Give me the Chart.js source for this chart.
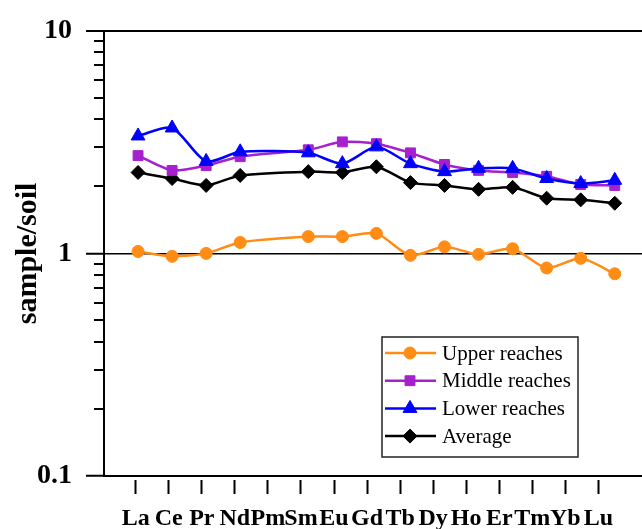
<!DOCTYPE html>
<html>
<head>
<meta charset="utf-8">
<script src="https://cdn.jsdelivr.net/npm/chart.js@4.4.1/dist/chart.umd.min.js"></script>
<style>
  html, body { margin: 0; padding: 0; background: #fff; }
</style>
</head>
<body>
<canvas id="ree" width="642" height="529"></canvas>
<script>
// REE values normalised to soil
const elements = ['La', 'Ce', 'Pr', 'Nd', 'Pm', 'Sm', 'Eu', 'Gd', 'Tb', 'Dy', 'Ho', 'Er', 'Tm', 'Yb', 'Lu'];
const upperReaches  = [1.02, 0.97, 1.00, 1.12, null, 1.19, 1.19, 1.23, 0.98, 1.07, 0.99, 1.05, 0.86, 0.95, 0.81];
const middleReaches = [2.75, 2.36, 2.48, 2.72, null, 2.92, 3.17, 3.11, 2.83, 2.51, 2.36, 2.31, 2.22, 2.04, 2.02];
const lowerReaches  = [3.37, 3.66, 2.59, 2.86, null, 2.83, 2.53, 3.01, 2.53, 2.33, 2.41, 2.41, 2.17, 2.06, 2.13];
const average       = [2.31, 2.17, 2.02, 2.24, null, 2.33, 2.31, 2.45, 2.08, 2.02, 1.94, 1.98, 1.77, 1.74, 1.68];

// y axis ticks (log), only decades get a label
const yTicks = [0.1, 0.2, 0.3, 0.4, 0.5, 0.6, 0.7, 0.8, 0.9, 1, 2, 3, 4, 5, 6, 7, 8, 9, 10];
const yLabels = [0.1, 1, 10];

const serif = "'Liberation Serif', 'Times New Roman', serif";

function toPoints(values) {
    return values.map((v, i) => ({ x: i, y: v }));
}

function series(label, values, color, style, radius, order) {
    return {
        label: label,
        data: toPoints(values),
        xAxisID: 'xd',
        yAxisID: 'y',
        borderColor: color,
        backgroundColor: color,
        pointBackgroundColor: color,
        pointBorderColor: color,
        pointStyle: style,
        pointRadius: radius,
        pointBorderWidth: 1,
        borderWidth: 2.5,
        tension: 0.25,
        spanGaps: true,
        order: order
    };
}

// short minor ticks on the y axis
const minorTicks = {
    id: 'minorTicks',
    afterDraw(chart) {
        const s = chart.scales.y;
        const ctx = chart.ctx;
        ctx.save();
        ctx.strokeStyle = '#000';
        ctx.lineWidth = 2;
        s.ticks.forEach(t => {
            if (yLabels.includes(t.value)) return;
            const py = Math.round(s.getPixelForValue(t.value));
            ctx.beginPath();
            ctx.moveTo(s.right - 10, py);
            ctx.lineTo(s.right, py);
            ctx.stroke();
        });
        ctx.restore();
    }
};

// boxed legend with line + marker samples
const lineLegend = {
    id: 'lineLegend',
    afterDraw(chart) {
        const ctx = chart.ctx;
        const x0 = 382, y0 = 337, w = 196, h = 120;
        ctx.save();
        ctx.fillStyle = '#fff';
        ctx.fillRect(x0, y0, w, h);
        ctx.strokeStyle = '#222';
        ctx.lineWidth = 1.5;
        ctx.strokeRect(x0, y0, w, h);
        chart.data.datasets.forEach((ds, i) => {
            const y = y0 + 16 + i * 27.7;
            ctx.strokeStyle = ds.borderColor;
            ctx.fillStyle = ds.borderColor;
            ctx.lineWidth = 2.5;
            ctx.beginPath();
            ctx.moveTo(x0 + 3, y);
            ctx.lineTo(x0 + 54, y);
            ctx.stroke();
            ctx.lineWidth = 1;
            Chart.helpers.drawPoint(ctx, {
                pointStyle: ds.pointStyle,
                radius: ds.pointRadius,
                rotation: 0,
                borderWidth: 1
            }, x0 + 28, y);
            ctx.fillStyle = '#000';
            ctx.font = '21px ' + serif;
            ctx.textBaseline = 'middle';
            ctx.fillText(ds.label, x0 + 60, y + 1);
        });
        ctx.restore();
    }
};

const chart = new Chart(document.getElementById('ree'), {
    type: 'line',
    data: {
        datasets: [
            series('Upper reaches', upperReaches, '#ff8c14', 'circle', 6, 3),
            series('Middle reaches', middleReaches, '#a620cf', 'rect', 7, 1),
            series('Lower reaches', lowerReaches, '#0000ff', 'triangle', 8, 0),
            series('Average', average, '#000000', 'rectRot', 7, 2)
        ]
    },
    options: {
        responsive: false,
        animation: false,
        devicePixelRatio: 1,
        layout: { autoPadding: false, padding: { top: 25, right: 0, left: 0, bottom: 0 } },
        plugins: {
            legend: { display: false },
            tooltip: { enabled: false }
        },
        scales: {
            xd: {
                type: 'linear',
                min: -1,
                max: 14.8,
                display: false
            },
            xl: {
                type: 'linear',
                position: 'bottom',
                min: -0.96,
                max: 15.32,
                afterBuildTicks: s => { s.ticks = elements.map((e, i) => ({ value: i })); },
                afterFit: s => { s.height = 53; },
                ticks: {
                    callback: v => elements[v],
                    color: '#000',
                    font: { family: serif, size: 24, weight: 'bold' },
                    padding: 10,
                    maxRotation: 0,
                    autoSkip: false
                },
                grid: {
                    drawOnChartArea: false,
                    tickLength: 18,
                    tickColor: '#000',
                    tickWidth: 2,
                    tickBorderDash: [0, 3, 15, 40]
                },
                border: { color: '#000', width: 2 }
            },
            y: {
                type: 'logarithmic',
                min: 0.1,
                max: 10,
                afterBuildTicks: s => { s.ticks = yTicks.map(v => ({ value: v, major: yLabels.includes(v) })); },
                afterFit: s => { s.width = 104; },
                ticks: {
                    callback: v => yLabels.includes(v) ? String(v) : '',
                    color: '#000',
                    font: { family: serif, size: 28, weight: 'bold' },
                    padding: 14,
                    autoSkip: false
                },
                grid: {
                    color: c => (c.tick && (c.tick.value === 1 || c.tick.value === 10)) ? '#000' : 'rgba(0,0,0,0)',
                    lineWidth: c => (c.tick && c.tick.value === 10) ? 2 : 1.5,
                    tickLength: 18,
                    tickColor: c => (c.tick && yLabels.includes(c.tick.value)) ? '#000' : 'rgba(0,0,0,0)',
                    tickWidth: 2
                },
                border: { color: '#000', width: 2 },
                title: {
                    display: true,
                    text: 'sample/soil',
                    color: '#000',
                    font: { family: serif, size: 30, weight: 'bold' },
                    padding: { top: 10, bottom: 0 }
                }
            }
        }
    },
    plugins: [minorTicks, lineLegend]
});
</script>
</body>
</html>
